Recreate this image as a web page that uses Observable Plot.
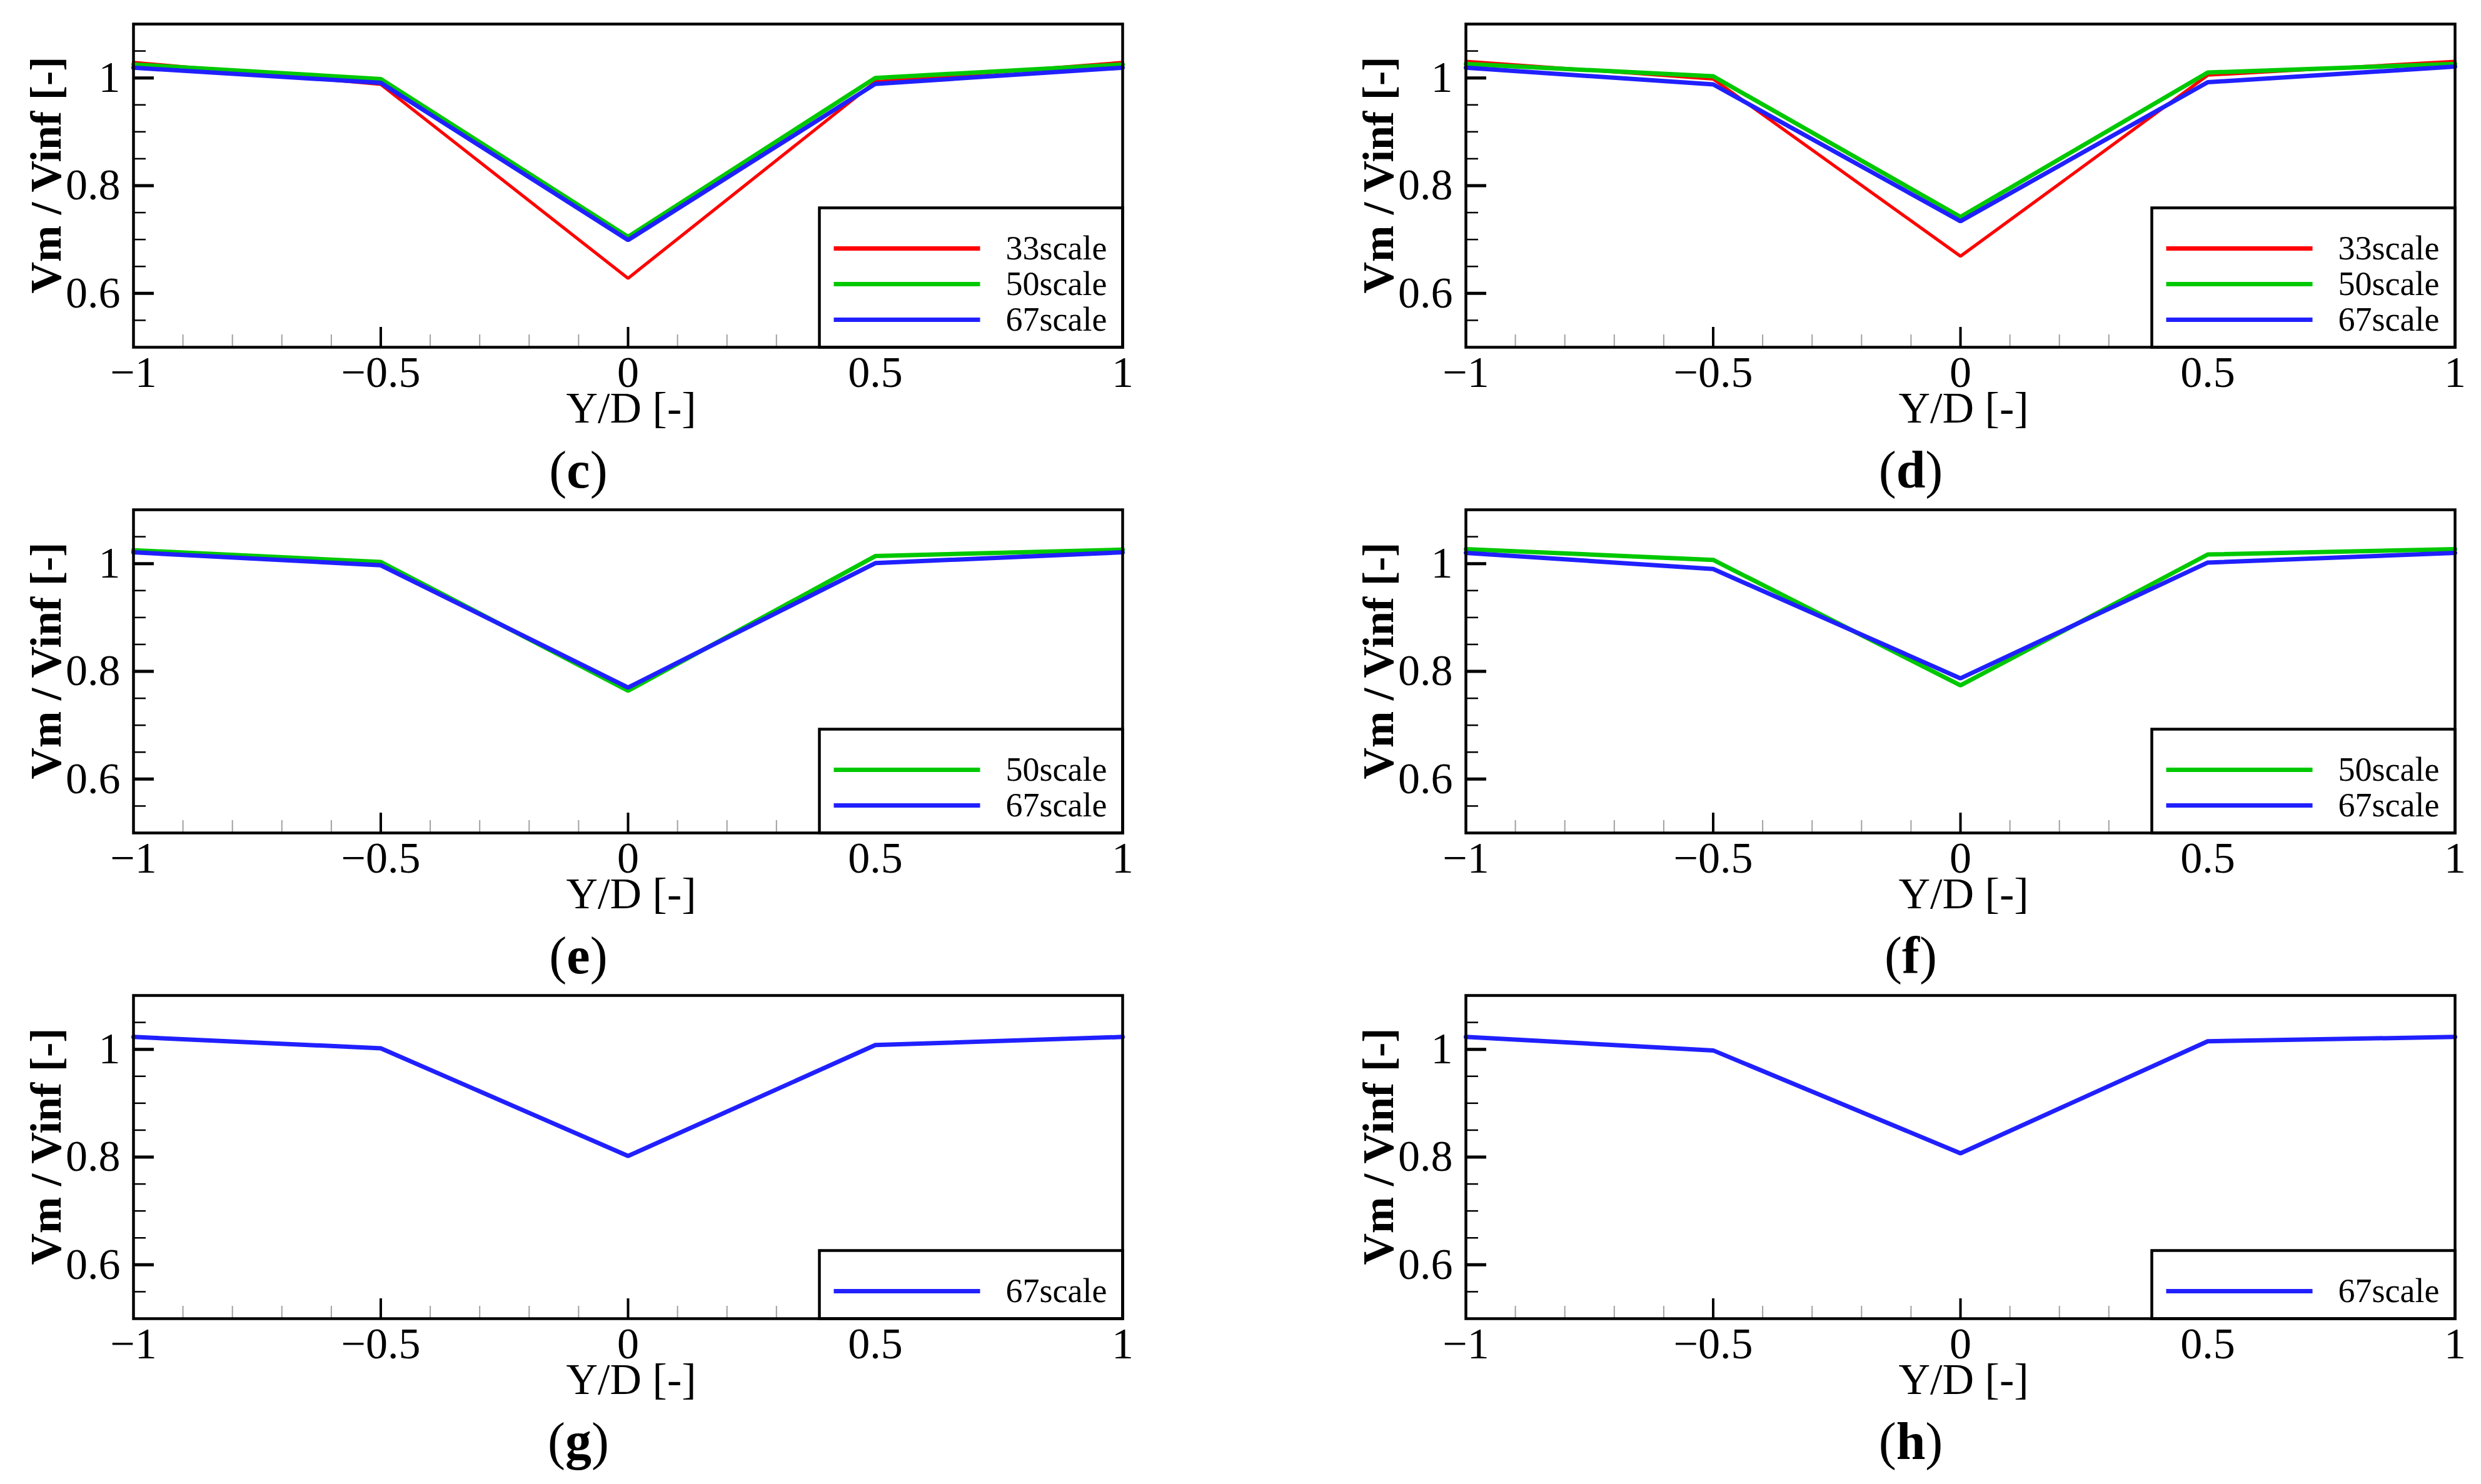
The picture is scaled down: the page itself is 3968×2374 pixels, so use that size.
<!DOCTYPE html>
<html><head><meta charset="utf-8">
<script src="https://cdn.jsdelivr.net/npm/d3@7"></script>
<script src="https://cdn.jsdelivr.net/npm/@observablehq/plot@0.6"></script>
<style>
body{margin:0;background:#fff;}
#page{position:relative;width:3968px;height:2374px;background:#fff;overflow:hidden;}
.panel{position:absolute;z-index:1;}
.cap{position:absolute;z-index:5;font-family:"Liberation Serif",serif;font-size:84px;line-height:1;transform:translateX(-50%);white-space:nowrap;color:#000;}
.cap b{font-weight:bold;}
</style></head><body><div id="page"></div><script>
// x positions (Y/D)
const yd = [-1, -0.5, 0, 0.5, 1];
// series names and colours
const seriesNames = ["33scale", "50scale", "67scale"];
const seriesColors = ["#ff0000", "#00c800", "#2020ff"];
const seriesWidths = [5, 7, 7];
// panel (c)
const c33 = [1.029, 0.988, 0.628, 0.993, 1.029];
const c50 = [1.025, 0.998, 0.705, 1.000, 1.025];
const c67 = [1.019, 0.991, 0.699, 0.989, 1.019];
// panel (d)
const d33 = [1.031, 0.998, 0.669, 1.005, 1.031];
const d50 = [1.026, 1.003, 0.742, 1.010, 1.026];
const d67 = [1.019, 0.988, 0.734, 0.992, 1.021];
// panel (e)
const e50 = [1.025, 1.003, 0.764, 1.014, 1.026];
const e67 = [1.021, 0.997, 0.770, 1.001, 1.021];
// panel (f)
const f50 = [1.027, 1.007, 0.774, 1.017, 1.027];
const f67 = [1.020, 0.990, 0.787, 1.002, 1.020];
// panel (g)
const g67 = [1.023, 1.002, 0.802, 1.008, 1.023];
// panel (h)
const h67 = [1.023, 0.998, 0.807, 1.015, 1.023];
// ticks
const xTickLabels = [-1, -0.5, 0, 0.5, 1];
const xMajorTicks = [-0.5, 0, 0.5];
const xMinorTicks = [-0.9, -0.8, -0.7, -0.6, -0.4, -0.3, -0.2, -0.1, 0.1, 0.2, 0.3, 0.4, 0.6, 0.7, 0.8, 0.9];
const yTickLabels = [0.6, 0.8, 1];
const yMajorTicks = [0.6, 0.8, 1];
const yMinorTicks = [0.55, 0.65, 0.7, 0.75, 0.85, 0.9, 0.95, 1.05];
const xTitle = "Y/D [-]";
const yTitle = "Vm / Vinf [-]";

const panels = [
  {tag: "c", data: [c33, c50, c67], idx: [0, 1, 2]},
  {tag: "d", data: [d33, d50, d67], idx: [0, 1, 2]},
  {tag: "e", data: [e50, e67], idx: [1, 2]},
  {tag: "f", data: [f50, f67], idx: [1, 2]},
  {tag: "g", data: [g67], idx: [2]},
  {tag: "h", data: [h67], idx: [2]}
];

const FW = 1582, FH = 517, ML = 213, MT = 38, W = 1837, H = 700;
const colX = [0, 2131], rowY = [0, 777, 1554];
const fmt = d => String(d).replace("-", "\u2212");

const page = document.getElementById("page");

panels.forEach((p, k) => {
  const col = k % 2, row = Math.floor(k / 2);
  const n = p.data.length;
  const marks = [
    Plot.ruleX(xMinorTicks, {stroke: "#a0a0a0", strokeWidth: 2, insetTop: FH - 20}),
    Plot.ruleX(xMajorTicks, {stroke: "#000", strokeWidth: 4, insetTop: FH - 32}),
    Plot.ruleY(yMinorTicks, {stroke: "#000", strokeWidth: 2.5, insetRight: FW - 20}),
    Plot.ruleY(yMajorTicks, {stroke: "#000", strokeWidth: 5, insetRight: FW - 33})
  ];
  p.data.forEach((vals, j) => {
    const si = p.idx[j];
    const rows = vals.map((v, i) => ({x: yd[i], y: v}));
    marks.push(Plot.line(rows, {x: "x", y: "y", stroke: seriesColors[si], strokeWidth: seriesWidths[si], strokeLinejoin: "miter"}));
  });
  // legend box
  marks.push(Plot.frame({fill: "white", stroke: "black", strokeWidth: 4.5, insetLeft: 1097, insetTop: FH - (57 * n + 52)}));
  p.idx.forEach((si, j) => {
    const off = 44 + 57 * (n - 1 - j);
    marks.push(Plot.frame({fill: seriesColors[si], stroke: "none", insetLeft: 1120, insetRight: FW - 1354, insetTop: FH - off - 3.5, insetBottom: off - 3.5}));
    marks.push(Plot.text([seriesNames[si]], {text: d => d, frameAnchor: "bottom-right", dx: -25, dy: -off, textAnchor: "end", lineAnchor: "middle", fontSize: 54, fill: "black"}));
  });
  marks.push(Plot.frame({stroke: "black", strokeWidth: 4.5}));
  marks.push(Plot.axisX(xTickLabels, {tickSize: 0, tickPadding: 14, fontSize: 70, tickFormat: fmt, label: null}));
  marks.push(Plot.axisY(yTickLabels, {tickSize: 0, tickPadding: 21, fontSize: 70, tickFormat: fmt, label: null}));
  marks.push(Plot.text([xTitle], {text: d => d, frameAnchor: "bottom", dy: 120, dx: 5, textAnchor: "middle", lineAnchor: "bottom", fontSize: 70, fill: "black"}));
  marks.push(Plot.text([yTitle], {text: d => d, frameAnchor: "left", dx: -139, dy: -17, rotate: -90, textAnchor: "middle", fontWeight: "bold", fontSize: 70, fill: "black"}));

  const svg = Plot.plot({
    width: W, height: H,
    marginLeft: ML, marginTop: MT, marginRight: W - ML - FW, marginBottom: H - MT - FH,
    x: {domain: [-1, 1]},
    y: {domain: [0.5, 1.1]},
    style: {fontFamily: "Liberation Serif", background: "transparent", color: "black", overflow: "visible"},
    marks
  });
  svg.classList.add("panel");
  svg.style.left = colX[col] + "px";
  svg.style.top = rowY[row] + "px";
  page.appendChild(svg);

  const cap = document.createElement("div");
  cap.className = "cap";
  cap.innerHTML = "(<b>" + p.tag + "</b>)";
  cap.style.left = (colX[col] + 925) + "px";
  cap.style.top = (rowY[row] + 710) + "px";
  page.appendChild(cap);
});
</script></body></html>
